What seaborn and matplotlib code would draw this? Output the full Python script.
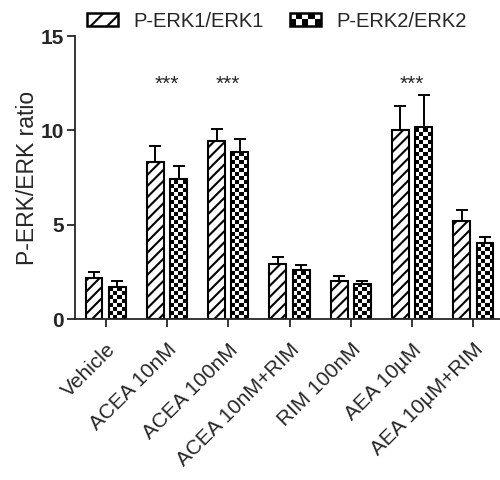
import numpy as np
import pandas as pd
import matplotlib
matplotlib.use("Agg")
import matplotlib.pyplot as plt
import seaborn as sns
from matplotlib.patches import Rectangle, Patch
from matplotlib.legend_handler import HandlerBase

# dados
grupos = ["Vehicle", "ACEA 10nM", "ACEA 100nM", "ACEA 10nM+RIM",
          "RIM 100nM", "AEA 10µM", "AEA 10µM+RIM"]
erk1 = [2.2, 8.3, 9.45, 2.95, 2.0, 10.0, 5.2]
erk1_sem = [0.3, 0.9, 0.6, 0.32, 0.27, 1.27, 0.6]
erk2 = [1.68, 7.45, 8.87, 2.6, 1.84, 10.2, 4.04]
erk2_sem = [0.35, 0.65, 0.65, 0.26, 0.17, 1.7, 0.32]
series = ["P-ERK1/ERK1", "P-ERK2/ERK2"]
signif = ["ACEA 10nM", "ACEA 100nM", "AEA 10µM"]

df = pd.DataFrame({
    "grupo": grupos * 2,
    "serie": [series[0]] * len(grupos) + [series[1]] * len(grupos),
    "valor": erk1 + erk2,
    "sem": erk1_sem + erk2_sem,
})

sns.set_style("ticks")
plt.rcParams["font.family"] = ["Liberation Sans", "DejaVu Sans"]
plt.rcParams["hatch.linewidth"] = 1.5

fig = plt.figure(figsize=(5, 4.8), dpi=100)
ax = fig.add_axes([0.15, 0.335, 0.858, 0.59])

sns.barplot(data=df, x="grupo", y="valor", hue="serie", order=grupos,
            hue_order=series, palette=["white", "white"], width=0.76, gap=0.28,
            edgecolor="black", linewidth=1.5, errorbar=None, legend=False, ax=ax)

# hachura diagonal na série 1
for bar in ax.containers[0]:
    bar.set_hatch("///")

# xadrez na série 2 (textura recortada em cada barra)
cell_y = 0.21
for bar in ax.containers[1]:
    x0, w, h = bar.get_x(), bar.get_width(), bar.get_height()
    ncol = 4
    nrow = max(1, int(round(h / cell_y)))
    tex = np.add.outer(np.arange(nrow), np.arange(ncol)) % 2
    im = ax.imshow(tex, cmap="gray_r", extent=(x0, x0 + w, 0, nrow * cell_y),
                   origin="lower", interpolation="nearest", aspect="auto",
                   zorder=0.8)
    im.set_clip_path(bar)
    bar.set_facecolor("none")

# barras de erro (só para cima)
for cont, sem in zip(ax.containers[:2], [erk1_sem, erk2_sem]):
    xs = [b.get_x() + b.get_width() / 2 for b in cont]
    ys = [b.get_height() for b in cont]
    ax.errorbar(xs, ys, yerr=[np.zeros(len(sem)), sem], fmt="none",
                ecolor="black", elinewidth=1.4, capsize=4, capthick=1.4, zorder=3)

for g in signif:
    ax.text(grupos.index(g), 12.45, "***", ha="center", va="center", fontsize=15)

ax.set_xlim(-0.5, 6.5)
ax.set_ylim(0, 15)
ax.set_yticks([0, 5, 10, 15])
ax.set_xlabel("")
ax.set_ylabel("P-ERK/ERK ratio", fontsize=16.5, labelpad=1)
ax.tick_params(axis="y", labelsize=15, width=1.3, length=6, pad=2)
ax.tick_params(axis="x", labelsize=15, width=1.3, length=6, pad=9)
plt.setp(ax.get_yticklabels(), fontweight="bold")
plt.setp(ax.get_xticklabels(), rotation=45, ha="right", rotation_mode="anchor")
sns.despine(ax=ax)
ax.spines["left"].set_linewidth(1.3)
ax.spines["bottom"].set_linewidth(1.3)


class CheckerHandler(HandlerBase):
    def create_artists(self, legend, orig_handle, xdescent, ydescent,
                       width, height, fontsize, trans):
        arts = [Rectangle((-xdescent, -ydescent), width, height, facecolor="white",
                          lw=0, transform=trans)]
        nx, ny = 5, 2
        cw, ch = width / nx, height / ny
        for i in range(nx):
            for j in range(ny):
                if (i + j) % 2 == 0:
                    arts.append(Rectangle((-xdescent + i * cw, -ydescent + j * ch), cw, ch,
                                          facecolor="black", lw=0, transform=trans))
        arts.append(Rectangle((-xdescent, -ydescent), width, height, facecolor="none",
                              edgecolor="black", lw=1.8, transform=trans))
        return arts


h1 = Patch(facecolor="white", edgecolor="black", hatch="//", linewidth=1.8)
h2 = Patch(facecolor="white", edgecolor="black")
fig.legend([h1, h2], series, handler_map={h2: CheckerHandler()},
           loc="center", bbox_to_anchor=(0.553, 0.956), ncol=2, frameon=False,
           fontsize=14.5, handlelength=1.55, handleheight=0.55, handletextpad=0.75,
           columnspacing=1.3)

fig.savefig("out.png", dpi=100)
